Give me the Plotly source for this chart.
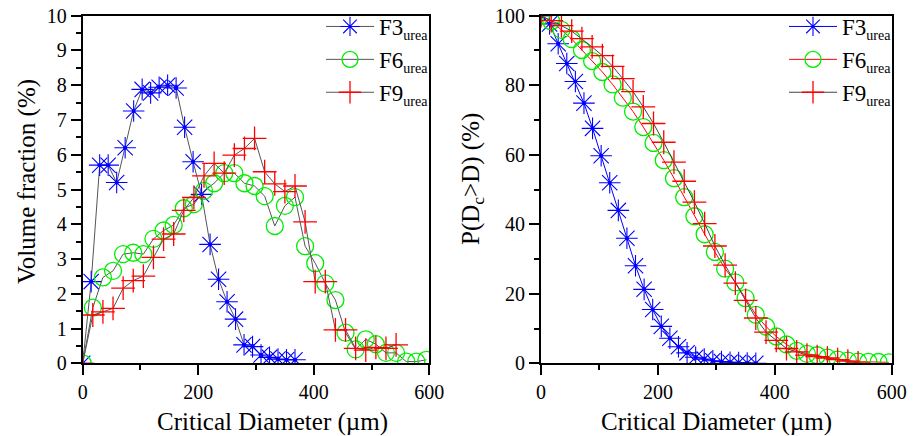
import plotly.graph_objects as go

# ---- particle size data (critical diameter in µm) ----
d_f3 = [0, 14.7, 29.4, 44.1, 58.8, 73.5, 88.2, 102.9, 117.6, 132.3, 147.0, 161.7, 176.4,
        191.1, 205.8, 220.5, 235.2, 249.9, 264.6, 279.3, 294.0, 308.7, 323.4, 338.1, 352.8, 367.5]
d_f6 = [0, 17.5, 35, 52.5, 70, 87.5, 105, 122.5, 140, 157.5, 175, 192.5, 210, 227.5, 245,
        262.5, 280, 297.5, 315, 332.5, 350, 367.5, 385, 402.5, 420, 437.5, 455, 472.5, 490,
        507.5, 525, 542.5, 560, 577.5, 595]
d_f9 = [0, 17.5, 35, 52.5, 70, 87.5, 105, 122.5, 140, 157.5, 175, 192.5, 210, 227.5, 245,
        262.5, 280, 297.5, 315, 332.5, 350, 367.5, 385, 402.5, 420, 437.5, 455, 472.5, 490,
        507.5, 525, 542.5]

# volume fraction (%)
vf_f3 = [0.0, 2.35, 5.70, 5.70, 5.20, 6.20, 7.26, 7.88, 7.78, 7.94, 8.00, 7.92, 6.79,
         5.80, 4.86, 3.42, 2.42, 1.77, 1.27, 0.53, 0.48, 0.24, 0.17, 0.12, 0.10, 0.10]
vf_f6 = [0.0, 1.60, 2.47, 2.66, 3.14, 3.18, 3.14, 3.58, 3.82, 3.98, 4.46, 4.58, 4.96, 5.18,
         5.47, 5.47, 5.18, 5.10, 4.81, 3.95, 4.53, 4.78, 3.37, 2.88, 2.30, 1.82, 0.88, 0.40,
         0.69, 0.55, 0.30, 0.30, 0.05, 0.05, 0.10]
vf_f9 = [0.0, 1.39, 1.48, 1.58, 2.16, 2.38, 2.51, 3.05, 3.57, 3.72, 4.40, 4.77, 5.39, 5.75,
         5.47, 5.99, 6.18, 6.47, 5.51, 5.16, 4.94, 5.10, 4.07, 2.35, 2.35, 0.96, 0.96, 0.43,
         0.38, 0.46, 0.43, 0.53]

# exceedance probability P(Dc > D) (%)
p_f3 = [100.0, 97.65, 91.95, 86.25, 81.05, 74.85, 67.59, 59.71, 51.93, 43.99, 35.99, 28.07,
        21.28, 15.48, 10.62, 7.20, 4.78, 3.01, 1.74, 1.21, 0.73, 0.49, 0.32, 0.20, 0.10, 0.0]
p_f6 = [100.0, 98.40, 95.93, 93.27, 90.13, 86.95, 83.81, 80.23, 76.41, 72.43, 67.97, 63.39,
        58.43, 53.25, 47.78, 42.31, 37.13, 32.03, 27.22, 23.27, 18.74, 13.96, 10.59, 7.71,
        5.41, 3.59, 2.71, 2.31, 1.62, 1.07, 0.77, 0.47, 0.42, 0.37, 0.27]
p_f9 = [100.0, 98.61, 97.13, 95.55, 93.39, 91.01, 88.50, 85.45, 81.88, 78.16, 73.76, 68.99,
        63.60, 57.85, 52.38, 46.39, 40.21, 33.74, 28.23, 23.07, 18.13, 13.03, 8.96, 6.61,
        4.26, 3.30, 2.34, 1.91, 1.53, 1.07, 0.64, 0.11]

SUB = "<sub><span style='font-size:14px'>urea</span></sub>"
names = ["F3" + SUB, "F6" + SUB, "F9" + SUB]

FONT = "Liberation Serif"
BLUE, GREEN, RED = "#0000ff", "#00ee00", "#ff0000"
GREY = "#555555"

fig = go.Figure()

marker_f3 = dict(symbol="asterisk-open", size=18, color=BLUE, line=dict(color=BLUE, width=1.1))
marker_f6 = dict(symbol="circle-open", size=17, color=GREEN, line=dict(color=GREEN, width=1.3))
marker_f9 = dict(symbol="cross-thin-open", size=17, color=RED, line=dict(color=RED, width=1.3))
dot_f3 = dict(symbol="circle", size=4, color=BLUE)

# left panel: volume fraction
fig.add_trace(go.Scatter(x=d_f3, y=vf_f3, name=names[0], mode="lines+markers",
                         line=dict(color=GREY, width=1), marker=marker_f3,
                         xaxis="x", yaxis="y", legend="legend"))
fig.add_trace(go.Scatter(x=d_f3, y=vf_f3, mode="markers", showlegend=False, marker=dot_f3,
                         xaxis="x", yaxis="y", hoverinfo="skip"))
fig.add_trace(go.Scatter(x=d_f6, y=vf_f6, name=names[1], mode="lines+markers",
                         line=dict(color=GREY, width=1), marker=marker_f6,
                         xaxis="x", yaxis="y", legend="legend"))
fig.add_trace(go.Scatter(x=d_f9, y=vf_f9, name=names[2], mode="lines+markers",
                         line=dict(color=GREY, width=1), marker=marker_f9,
                         xaxis="x", yaxis="y", legend="legend"))

# right panel: exceedance probability
fig.add_trace(go.Scatter(x=d_f3, y=p_f3, name=names[0], mode="lines+markers",
                         line=dict(color=BLUE, width=1), marker=marker_f3,
                         xaxis="x2", yaxis="y2", legend="legend2"))
fig.add_trace(go.Scatter(x=d_f3, y=p_f3, mode="markers", showlegend=False, marker=dot_f3,
                         xaxis="x2", yaxis="y2", hoverinfo="skip"))
fig.add_trace(go.Scatter(x=d_f6, y=p_f6, name=names[1], mode="lines+markers",
                         line=dict(color=RED, width=1), marker=marker_f6,
                         xaxis="x2", yaxis="y2", legend="legend2"))
fig.add_trace(go.Scatter(x=d_f9, y=p_f9, name=names[2], mode="lines+markers",
                         line=dict(color="#444444", width=1), marker=marker_f9,
                         xaxis="x2", yaxis="y2", legend="legend2"))

W, H = 917, 436
y_dom = [72.7 / H, 420.3 / H]

axis_common = dict(showline=True, linecolor="black", linewidth=2, mirror=True,
                   ticks="outside", ticklen=10, tickwidth=2, tickcolor="black",
                   showgrid=False, zeroline=False, automargin=False,
                   tickfont=dict(family=FONT, size=20, color="black"))
minor_common = dict(ticks="outside", ticklen=5, tickwidth=2, tickcolor="black")

legend_common = dict(xanchor="left", yanchor="top", bgcolor="rgba(0,0,0,0)",
                     font=dict(family=FONT, size=23, color="black"),
                     itemsizing="trace", itemwidth=48, tracegroupgap=0)

title_font = dict(family=FONT, size=25, color="black")

fig.update_layout(
    width=W, height=H,
    margin=dict(l=0, r=0, t=0, b=0),
    paper_bgcolor="white", plot_bgcolor="white",
    font=dict(family=FONT, color="black"),
    xaxis=dict(domain=[82.7 / W, 429.3 / W], range=[0, 600], dtick=200,
               minor=dict(dtick=100, **minor_common), anchor="y", **axis_common),
    yaxis=dict(domain=y_dom, range=[0, 10], dtick=1,
               minor=dict(dtick=0.5, **minor_common), anchor="x", **axis_common),
    xaxis2=dict(domain=[541 / W, 891.7 / W], range=[0, 600], dtick=200,
                minor=dict(dtick=100, **minor_common), anchor="y2", **axis_common),
    yaxis2=dict(domain=y_dom, range=[0, 100], dtick=20,
                minor=dict(dtick=10, **minor_common), anchor="x2", **axis_common),
    legend=dict(x=321 / W, y=1 - 5 / H, **legend_common),
    legend2=dict(x=784 / W, y=1 - 5 / H, **legend_common),
    annotations=[
        dict(text="Critical Diameter (µm)", x=272 / W, y=1 - 421.7 / H, xref="paper", yref="paper",
             xanchor="center", yanchor="middle", showarrow=False, font=title_font),
        dict(text="Critical Diameter (µm)", x=716 / W, y=1 - 421.7 / H, xref="paper", yref="paper",
             xanchor="center", yanchor="middle", showarrow=False, font=title_font),
        dict(text="Volume fraction (%)", x=27 / W, y=1 - 182 / H, xref="paper", yref="paper",
             xanchor="center", yanchor="middle", textangle=-90, showarrow=False, font=title_font),
        dict(text="P(D<sub>c</sub>&gt;D) (%)", x=472 / W, y=1 - 179 / H, xref="paper", yref="paper",
             xanchor="center", yanchor="middle", textangle=-90, showarrow=False, font=title_font),
    ],
)

fig.write_html("out.html")
